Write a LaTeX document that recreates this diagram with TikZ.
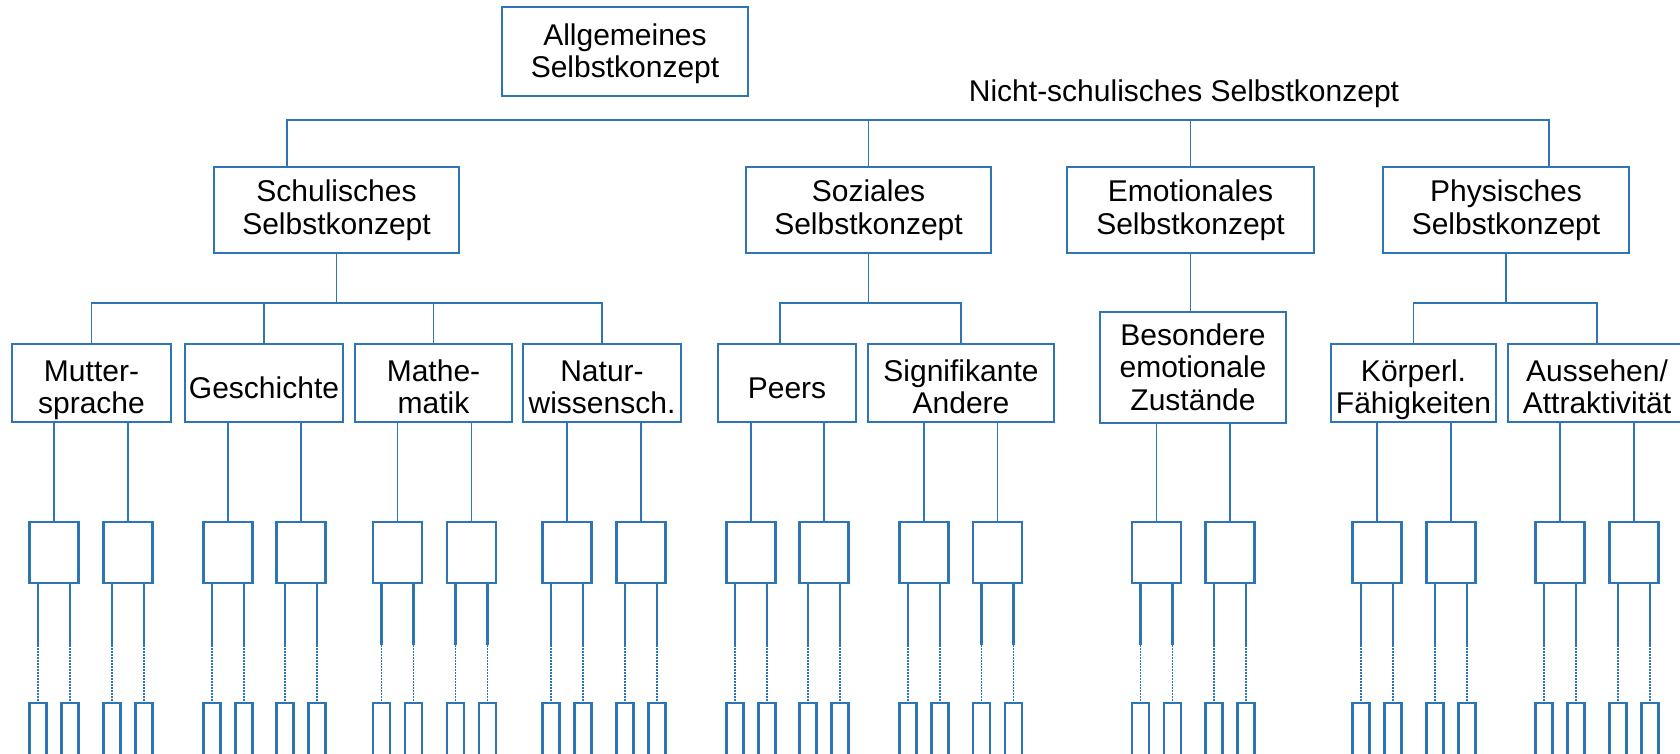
\documentclass[tikz,border=0pt]{standalone}
\usepackage{fontspec}
\setmainfont{Liberation Sans}
\definecolor{lineblue}{HTML}{2E75B6}
\newcommand{\mytop}[1]{\rule{0pt}{#1}}
\newcommand{\mybot}{\rule[-8pt]{0pt}{8pt}}
\tikzset{
  box/.style={draw=lineblue, line width=1.6pt, inner sep=0pt, align=center, font=\fontsize{30}{32}\selectfont},
  l4box/.style={draw=lineblue, line width=2.1pt, inner sep=0pt, minimum width=49pt, minimum height=61pt},
  smallbox/.style={draw=lineblue, line width=2.1pt, inner sep=0pt, minimum width=17pt, minimum height=57pt},
  conn/.style={draw=lineblue, line width=1.6pt},
  conn4/.style={draw=lineblue, line width=2.1pt},
  dotconn/.style={draw=lineblue, line width=1.8pt, dash pattern=on 1.5pt off 1.5pt}
}
\begin{document}
\begin{tikzpicture}[x=1pt,y=-1pt]
\clip (0,0) rectangle (1680,753);
\fill[white] (0,0) rectangle (1680,753);
% level 1
\node[box, minimum width=246pt, minimum height=89pt] (top) at (625,51.5) {\mytop{27pt}Allgemeines\\Selbstkonzept\mybot};
\node[font=\fontsize{30}{32}\selectfont, inner sep=0pt, anchor=base] (nsl) at (1184,101.7) {Nicht-schulisches Selbstkonzept};
% level 2
\tikzset{l2/.style={box, minimum width=246pt, minimum height=86pt, font=\fontsize{30}{33}\selectfont}}
\node[l2, minimum width=245pt] (schul) at (336.5,210) {\mytop{24pt}Schulisches\\Selbstkonzept\mybot};
\node[l2, minimum width=245pt] (soz) at (868.5,210) {\mytop{24pt}Soziales\\Selbstkonzept\mybot};
\node[l2, minimum width=247pt] (emo) at (1190.5,210) {\mytop{24pt}Emotionales\\Selbstkonzept\mybot};
\node[l2] (phys) at (1506,210) {\mytop{24pt}Physisches\\Selbstkonzept\mybot};
% level 3
\tikzset{l3/.style={box, minimum height=78pt, font=\fontsize{30}{31.5}\selectfont}}
\node[l3, minimum width=159pt] (mut) at (91.5,383) {\mytop{36.5pt}Mutter-\\sprache\mybot};
\node[l3, minimum width=158pt] (ges) at (264,383) {\mytop{38pt}Geschichte\mybot};
\node[l3, minimum width=157pt] (mat) at (433.5,383) {\mytop{36.5pt}Mathe-\\matik\mybot};
\node[l3, minimum width=158pt] (nat) at (602,383) {\mytop{36.5pt}Natur-\\wissensch.\mybot};
\node[l3, minimum width=138pt] (peers) at (787,383) {\mytop{38pt}Peers\mybot};
\node[l3, minimum width=186pt] (sig) at (961,383) {\mytop{36.5pt}Signifikante\\Andere\mybot};
\node[box, minimum width=186pt, minimum height=111pt, font=\fontsize{30}{32.75}\selectfont] (bes) at (1193,367.5) {\mytop{28.5pt}Besondere\\emotionale\\Zustände\mybot};
\node[l3, minimum width=165pt] (koer) at (1413.5,383) {\mytop{36.5pt}Körperl.\\Fähigkeiten\mybot};
\node[l3, minimum width=178pt] (auss) at (1597,383) {\mytop{36.5pt}Aussehen/\\Attraktivität\mybot};
% connectors level 1-2
\coordinate (j1) at (287,120);
\coordinate (j4) at (1549,120);
\draw[conn] (schul.north -| j1) -- (j1) -- (j4) -- (phys.north -| j4);
\draw[conn] (soz.north) -- (soz.north |- j1);
\draw[conn] (emo.north) -- (emo.north |- j1);
% connectors level 2-3
\coordinate (s3) at (0,303);
\draw[conn] (schul.south) -- (schul.south |- s3);
\draw[conn] (mut.north) |- (nat.north |- s3) -- (nat.north);
\draw[conn] (ges.north) -- (ges.north |- s3);
\draw[conn] (mat.north) -- (mat.north |- s3);
\draw[conn] (soz.south) -- (soz.south |- s3);
\coordinate (pj) at (780,303);
\draw[conn] (peers.north -| pj) -- (pj) -- (sig.north |- s3) -- (sig.north);
\draw[conn] (emo.south) -- (emo.south |- bes.north);
\draw[conn] (phys.south) -- (phys.south |- s3);
\draw[conn] (koer.north) |- (auss.north |- s3) -- (auss.north);
% level 4 and below
\coordinate (dotrow) at (0,645);
\foreach \p/\a/\b in {mut/54/128, ges/228/301, mat/397.5/471.5, nat/567/641, peers/751/824, sig/924/997.5, bes/1156.5/1230, koer/1377/1451, auss/1560/1634}{
  \foreach \s/\x in {a/\a, b/\b}{
    \node[l4box] (\p\s) at (\x,552.5) {};
    \draw[conn] (\p.south -| \p\s) -- (\p\s.north);
    \node[smallbox] (\p\s l) at ({\x-16},731.5) {};
    \node[smallbox] (\p\s r) at ({\x+16},731.5) {};
    \foreach \k in {l,r}{
      \draw[conn4] (\p\s\k.north |- \p\s.south) -- (\p\s\k.north |- dotrow);
      \draw[dotconn] (\p\s\k.north |- dotrow) -- (\p\s\k.north);
    }
  }
}
\end{tikzpicture}
\end{document}
